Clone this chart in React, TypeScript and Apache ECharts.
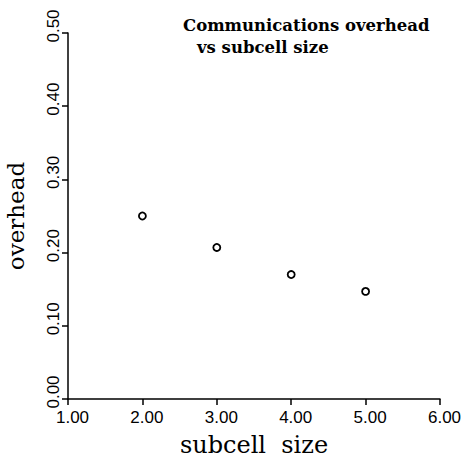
import React, { useEffect, useRef } from "react";
import * as echarts from "echarts";

const xTicks = [1, 2, 3, 4, 5, 6];
const subcellSize = [2, 3, 4, 5];
const overhead = [0.25, 0.207, 0.17, 0.147];
const titleLine1 = "Communications overhead";
const titleLine2 = "vs subcell size";
const xName = "subcell  size";
const yName = "overhead";

export default function App() {
  const ref = useRef<HTMLDivElement>(null);
  useEffect(() => {
    if (!ref.current) return;
    const chart = echarts.init(ref.current, undefined, { renderer: "svg" });
    const axisLine = { show: true, lineStyle: { color: "#000", width: 1.5 } };
    const tickStyle = { show: true, inside: false, length: 6, lineStyle: { color: "#000", width: 1.5 } };
    chart.setOption({
      animation: false,
      backgroundColor: "#fff",
      grid: { left: 68, right: 26, top: 33, bottom: 61, containLabel: false, outerBoundsMode: "none" },
      graphic: [
        {
          type: "text",
          left: 183,
          top: 17,
          style: {
            text: titleLine1,
            font: "bold 16.5px 'DejaVu Serif'",
            fill: "#000",
          },
        },
        {
          type: "text",
          left: 197,
          top: 39,
          style: {
            text: titleLine2,
            font: "bold 16.5px 'DejaVu Serif'",
            fill: "#000",
          },
        },
      ],
      xAxis: {
        type: "value",
        min: xTicks[0],
        max: xTicks[xTicks.length - 1],
        interval: 1,
        name: xName,
        nameLocation: "middle",
        nameGap: 34,
        nameTextStyle: { fontFamily: "DejaVu Serif", fontSize: 24, color: "#000" },
        axisLine,
        axisTick: tickStyle,
        splitLine: { show: false },
        axisLabel: {
          formatter: (v: number) => v.toFixed(2),
          fontFamily: "Liberation Sans",
          fontSize: 17,
          color: "#000",
          margin: 10,
          padding: [0, 0, 0, 9],
        },
      },
      yAxis: {
        type: "value",
        min: 0,
        max: 0.5,
        interval: 0.1,
        name: yName,
        nameLocation: "middle",
        nameGap: 41,
        nameRotate: 90,
        nameTextStyle: { fontFamily: "DejaVu Serif", fontSize: 23, color: "#000" },
        axisLine,
        axisTick: tickStyle,
        splitLine: { show: false },
        axisLabel: {
          formatter: (v: number) => v.toFixed(2),
          fontFamily: "Liberation Sans",
          fontSize: 17,
          color: "#000",
          rotate: 90,
          align: "center",
          verticalAlign: "bottom",
          margin: 6,
          padding: [0, 0, 0, 14],
        },
      },
      series: [
        {
          type: "scatter",
          data: subcellSize.map((x, i) => [x, overhead[i]]),
          symbol: "circle",
          symbolSize: 7,
          itemStyle: { color: "#fff", borderColor: "#000", borderWidth: 1.8, opacity: 1 },
        },
      ],
    });
    return () => chart.dispose();
  }, []);
  return <div ref={ref} style={{ width: 466, height: 460, position: "absolute", left: 0, top: 0 }} />;
}
